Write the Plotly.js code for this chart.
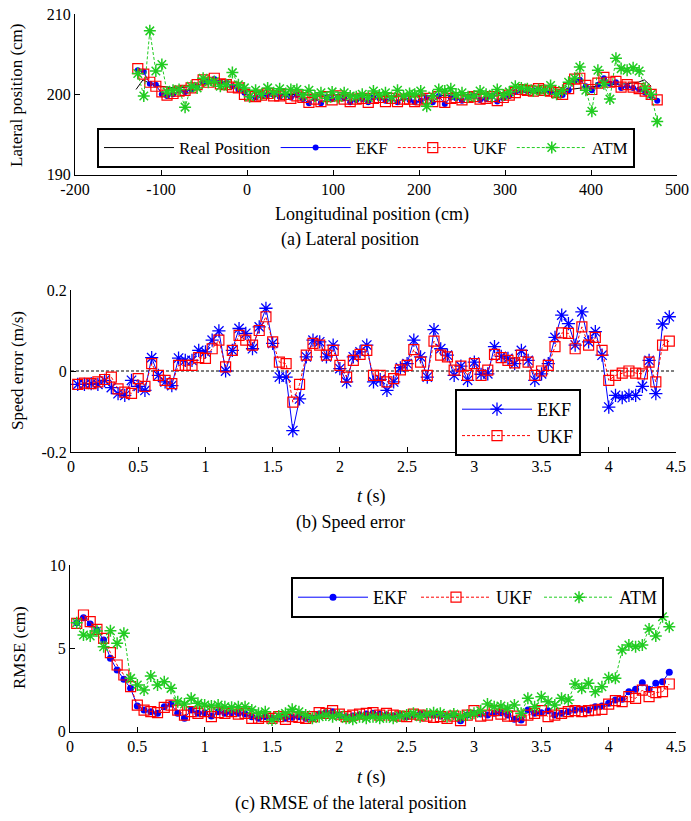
<!DOCTYPE html>
<html>
<head>
<meta charset="utf-8">
<script src="https://cdn.plot.ly/plotly-3.0.1.min.js"></script>
<style>html,body{margin:0;padding:0;background:#fff;overflow:hidden;}#chart{width:691px;height:821px;}</style>
</head>
<body>
<div id="chart"></div>
<script>
// ---------- (a) Lateral position ----------
const posX = [-127,-120,-113,-106,-99,-93,-86,-79,-72,-65,-58,-51,-45,-38,-31,-24,-17,-10,-3,3,10,17,24,31,38,45,51,58,65,72,79,86,93,99,106,113,120,127,134,141,147,154,161,168,175,182,189,195,202,209,216,223,230,237,243,250,257,264,271,278,285,291,298,305,312,319,326,333,339,346,353,360,367,374,381,387,394,401,408,415,422,429,435,442,449,456,463,470,477];
const realX = [-129,-121,-112,-100,-85,-70,-55,-40,-25,-10,0,15,40,80,120,160,200,240,280,320,360,375,390,400,420,440,455,462,470];
const realY = [200.6,201.8,201.3,201.0,200.8,200.9,201.2,201.4,201.3,201.0,200.6,200.2,200.0,199.9,199.9,199.8,199.8,199.9,200.0,200.2,200.3,200.6,200.8,201.0,201.2,201.3,201.5,201.8,201.0];
const posEKF = [203.0,202.8,201.3,201.2,200.0,199.8,200.0,200.5,200.3,200.6,
  201.0,201.6,201.6,201.9,201.5,201.4,201.0,200.6,200.2,199.7,
  199.6,199.8,199.9,199.9,199.7,199.9,199.6,199.9,199.4,198.9,
  199.5,198.9,199.6,199.4,199.7,199.5,199.0,199.3,199.4,199.0,
  199.6,199.5,199.2,199.4,199.0,199.5,199.3,199.0,199.2,199.6,
  199.0,199.8,198.8,199.6,199.5,199.2,199.7,199.8,199.3,199.4,
  199.8,199.1,199.5,199.8,200.3,200.5,200.4,200.5,200.6,200.5,
  200.3,200.1,199.9,200.5,201.7,201.8,201.0,200.5,201.2,202.0,
  201.3,201.5,200.8,201.0,200.8,200.6,200.2,199.8,199.2];
const posUKF = [203.2,202.5,201.5,201.0,200.3,199.9,200.1,200.4,200.5,200.8,
  201.2,201.8,201.5,202.0,201.3,201.2,200.9,200.8,200.0,199.8,
  199.7,199.9,200.1,199.8,199.8,200.0,199.5,199.8,199.6,199.0,
  199.4,199.1,199.7,199.3,199.8,199.4,199.1,199.4,199.5,199.0,
  199.5,199.6,199.1,199.5,199.1,199.4,199.4,199.1,199.3,199.5,
  199.1,199.7,199.0,199.5,199.6,199.3,199.6,199.7,199.4,199.5,
  199.7,199.2,199.6,199.9,200.2,200.6,200.5,200.4,200.7,200.5,
  200.4,200.2,200.0,200.7,201.9,202.0,201.1,200.6,201.4,202.1,
  201.5,201.6,200.9,201.2,200.9,200.7,200.4,200.0,199.3];
const posATM = [202.6,199.8,207.9,202.9,203.7,200.3,200.5,200.6,198.4,201.0,
  200.8,202.0,201.5,201.6,201.0,201.2,202.7,201.2,200.8,199.7,
  200.5,200.0,200.8,200.2,200.7,200.1,200.6,200.6,199.9,200.5,
  199.8,200.2,199.5,200.3,199.6,200.2,199.8,199.7,200.0,199.6,
  200.4,199.9,200.2,199.6,200.5,199.8,200.1,200.0,200.4,198.5,
  199.8,200.6,200.4,200.7,199.9,200.2,199.7,199.8,200.4,200.0,
  199.8,200.6,199.9,200.3,201.0,200.8,200.7,200.4,200.6,200.5,
  201.1,200.0,200.5,201.5,202.0,203.4,200.5,197.9,203.0,201.3,
  199.4,204.5,203.2,203.0,203.3,202.9,200.8,200.0,196.6];
const posXTicks = [-200,-100,0,100,200,300,400,500];
const posXTickText = ['-200','-100','0','100','200','300','400','500'];
const posYTicks = [190,200,210];

// ---------- shared time axis ----------
const t = [0.05,0.10,0.15,0.20,0.25,0.30,0.35,0.40,0.45,0.50,0.55,0.60,0.65,0.70,0.75,0.80,0.85,0.90,0.95,1.00,
  1.05,1.10,1.15,1.20,1.25,1.30,1.35,1.40,1.45,1.50,1.55,1.60,1.65,1.70,1.75,1.80,1.85,1.90,1.95,2.00,
  2.05,2.10,2.15,2.20,2.25,2.30,2.35,2.40,2.45,2.50,2.55,2.60,2.65,2.70,2.75,2.80,2.85,2.90,2.95,3.00,
  3.05,3.10,3.15,3.20,3.25,3.30,3.35,3.40,3.45,3.50,3.55,3.60,3.65,3.70,3.75,3.80,3.85,3.90,3.95,4.00,
  4.05,4.10,4.15,4.20,4.25,4.30,4.35,4.40,4.45];
const tTicks = [0,0.5,1,1.5,2,2.5,3,3.5,4,4.5];

// ---------- (b) Speed error ----------
const spdEKF = [-0.033,-0.033,-0.031,-0.033,-0.023,-0.041,-0.056,-0.060,-0.023,-0.038,
  -0.048,0.033,-0.011,-0.027,-0.036,0.032,0.026,0.026,0.051,0.047,
  0.076,0.099,0.000,0.051,0.105,0.093,0.055,0.109,0.155,0.068,
  -0.015,-0.015,-0.147,-0.069,0.035,0.076,0.072,0.035,0.064,0.006,
  -0.027,0.035,0.047,0.064,-0.027,-0.021,-0.048,-0.027,0.008,0.018,
  0.076,0.035,-0.015,0.102,0.055,0.039,-0.011,0.012,-0.023,0.022,
  -0.008,-0.007,0.060,0.036,0.031,0.018,0.051,0.026,-0.023,-0.007,
  0.018,0.083,0.138,0.117,0.064,0.146,0.072,0.097,0.039,-0.089,
  -0.060,-0.066,-0.060,-0.060,-0.038,0.026,-0.056,0.116,0.134];
const spdUKF = [-0.033,-0.030,-0.031,-0.027,-0.021,-0.015,-0.044,-0.052,-0.055,-0.019,
  -0.038,0.018,-0.011,-0.023,-0.031,0.014,0.014,0.014,0.033,0.031,
  0.055,0.076,0.010,0.051,0.088,0.076,0.064,0.100,0.134,0.072,
  0.022,0.018,-0.077,-0.033,0.039,0.068,0.064,0.039,0.051,0.014,
  -0.015,0.026,0.041,0.051,-0.011,-0.011,-0.027,-0.019,0.003,0.014,
  0.053,0.022,-0.011,0.074,0.039,0.035,0.002,0.012,-0.011,0.018,
  -0.011,0.002,0.041,0.033,0.026,0.020,0.039,0.022,-0.011,0.000,
  0.014,0.060,0.094,0.093,0.055,0.109,0.064,0.083,0.051,-0.023,
  -0.011,-0.005,0.000,-0.005,-0.007,0.022,-0.027,0.064,0.074];
const spdYTicks = [-0.2,0,0.2];
const spdYTickText = ['-0.2','0','0.2'];

// ---------- (c) RMSE ----------
const rmseEKF = [6.54,6.84,6.46,6.10,5.50,4.40,3.70,3.14,2.60,1.54,
  1.30,1.20,1.10,1.50,1.66,1.10,0.80,1.30,1.10,1.14,
  0.94,1.20,1.10,1.14,1.10,1.06,0.90,0.80,0.90,0.80,
  0.90,0.80,0.86,0.90,0.80,0.80,1.06,1.14,1.20,1.00,
  0.90,0.94,1.00,1.06,1.10,1.06,1.00,0.94,1.00,0.90,
  1.00,1.06,1.00,1.00,0.94,0.94,1.00,0.66,1.00,1.10,
  1.06,1.00,1.10,1.14,1.00,0.74,0.70,1.30,1.10,1.14,
  1.26,1.00,1.10,1.20,1.30,1.34,1.30,1.50,1.54,1.70,
  1.90,1.94,2.40,2.54,2.94,2.54,2.90,3.00,3.56];
const rmseUKF = [6.50,7.00,6.60,6.14,5.60,4.74,4.00,3.40,2.70,1.60,
  1.30,1.20,1.14,1.46,1.60,1.30,1.00,1.20,1.10,1.20,
  0.90,1.14,1.10,1.20,1.06,1.10,0.80,0.80,0.90,0.80,
  0.90,0.74,0.90,0.86,0.80,0.90,1.14,1.10,1.26,1.06,
  0.90,1.00,1.06,1.10,1.14,1.00,1.10,1.00,0.94,0.90,
  1.06,1.00,0.94,0.86,0.90,0.80,0.94,0.66,1.00,1.26,
  0.94,1.00,1.26,1.06,0.94,0.94,0.70,1.00,1.10,1.26,
  0.90,1.00,1.10,1.20,1.26,1.20,1.26,1.30,1.34,1.66,
  1.86,1.80,2.10,2.00,2.50,2.10,2.34,2.40,2.86];
const rmseATM = [6.54,5.80,5.74,6.04,5.10,6.06,5.30,5.90,3.20,2.80,
  2.50,3.34,2.80,3.00,2.60,1.80,1.66,2.00,1.70,1.60,
  1.54,1.60,1.50,1.46,1.50,1.50,1.30,1.10,1.20,0.70,
  0.94,1.10,1.34,1.20,1.00,0.80,0.90,1.00,0.90,1.00,
  0.80,0.74,0.90,0.80,0.90,0.80,0.90,0.80,0.94,1.00,
  1.10,0.90,1.06,1.14,1.10,0.90,1.06,0.90,1.00,1.10,
  1.26,1.66,1.50,1.54,1.40,1.60,1.10,2.00,1.50,2.10,
  1.80,1.60,2.00,1.90,2.86,2.60,2.90,2.40,2.70,3.24,
  3.20,4.90,5.20,5.10,5.20,6.16,5.74,6.90,6.30];
const rmseYTicks = [0,5,10];

// ---------- styling ----------
const W = 691, H = 821;
const FONT = 'Liberation Serif';
const BLUE = '#0000ff', RED = '#ff0000', GREEN = '#22cc22';
const DASH = '3px,2px';
const px = v => v / W;
const py = v => 1 - v / H;

function axisBase(extra) {
  return Object.assign({
    showline: true, linecolor: 'black', linewidth: 1,
    ticks: 'inside', ticklen: 5, tickwidth: 1, tickcolor: 'black',
    showgrid: false, zeroline: false, mirror: false, automargin: false,
    tickfont: {family: FONT, size: 16, color: 'black'},
    fixedrange: true
  }, extra);
}

const traces = [
  {x: realX, y: realY, xaxis: 'x', yaxis: 'y', mode: 'lines', name: 'Real Position',
   line: {color: 'black', width: 1}, legend: 'legend'},
  {x: posX, y: posEKF, xaxis: 'x', yaxis: 'y', mode: 'lines+markers', name: 'EKF',
   line: {color: BLUE, width: 1}, marker: {symbol: 'circle', size: 6, color: BLUE}, legend: 'legend'},
  {x: posX, y: posUKF, xaxis: 'x', yaxis: 'y', mode: 'lines+markers', name: 'UKF',
   line: {color: RED, width: 1, dash: DASH}, marker: {symbol: 'square-open', size: 10, color: RED, line: {width: 1.2}}, legend: 'legend'},
  {x: posX, y: posATM, xaxis: 'x', yaxis: 'y', mode: 'lines+markers', name: 'ATM',
   line: {color: GREEN, width: 1, dash: DASH}, marker: {symbol: 'asterisk-open', size: 10, color: GREEN, line: {width: 1.5, color: GREEN}}, legend: 'legend'},

  {x: t, y: spdEKF, xaxis: 'x2', yaxis: 'y2', mode: 'lines+markers', name: 'EKF',
   line: {color: BLUE, width: 1}, marker: {symbol: 'asterisk-open', size: 11, color: BLUE, line: {width: 1.3, color: BLUE}}, legend: 'legend2'},
  {x: t, y: spdUKF, xaxis: 'x2', yaxis: 'y2', mode: 'lines+markers', name: 'UKF',
   line: {color: RED, width: 1, dash: DASH}, marker: {symbol: 'square-open', size: 10, color: RED, line: {width: 1.2}}, legend: 'legend2'},

  {x: t, y: rmseEKF, xaxis: 'x3', yaxis: 'y3', mode: 'lines+markers', name: 'EKF',
   line: {color: BLUE, width: 1}, marker: {symbol: 'circle', size: 7, color: BLUE}, legend: 'legend3'},
  {x: t, y: rmseUKF, xaxis: 'x3', yaxis: 'y3', mode: 'lines+markers', name: 'UKF',
   line: {color: RED, width: 1, dash: DASH}, marker: {symbol: 'square-open', size: 10, color: RED, line: {width: 1.2}}, legend: 'legend3'},
  {x: t, y: rmseATM, xaxis: 'x3', yaxis: 'y3', mode: 'lines+markers', name: 'ATM',
   line: {color: GREEN, width: 1, dash: DASH}, marker: {symbol: 'asterisk-open', size: 10, color: GREEN, line: {width: 1.5, color: GREEN}}, legend: 'legend3'}
];

function ann(text, xPix, yPix, size, angle) {
  return {text: text, xref: 'paper', yref: 'paper', x: px(xPix), y: py(yPix),
    xanchor: 'center', yanchor: 'middle', showarrow: false, textangle: angle || 0,
    font: {family: FONT, size: size, color: 'black'}};
}

const legendBase = {
  bgcolor: 'white', bordercolor: 'black', borderwidth: 2,
  xref: 'container', yref: 'container', itemwidth: 70,
  xanchor: 'left', yanchor: 'top', font: {family: FONT, size: 17, color: 'black'}
};

const layout = {
  width: W, height: H,
  margin: {l: 0, r: 0, t: 0, b: 0, pad: 0, autoexpand: false},
  paper_bgcolor: 'white', plot_bgcolor: 'white',
  showlegend: true,
  xaxis: axisBase({domain: [px(75), px(677)], range: [-200, 500], anchor: 'y',
    tickmode: 'array', tickvals: posXTicks, ticktext: posXTickText}),
  yaxis: axisBase({domain: [py(174.6), py(14)], range: [190, 210], anchor: 'x',
    tickmode: 'array', tickvals: posYTicks}),
  xaxis2: axisBase({domain: [px(71), px(676)], range: [0, 4.5], anchor: 'y2',
    tickmode: 'array', tickvals: tTicks}),
  yaxis2: axisBase({domain: [py(452), py(290)], range: [-0.2, 0.2], anchor: 'x2',
    tickmode: 'array', tickvals: spdYTicks, ticktext: spdYTickText}),
  xaxis3: axisBase({domain: [px(70), px(676)], range: [0, 4.5], anchor: 'y3',
    tickmode: 'array', tickvals: tTicks}),
  yaxis3: axisBase({domain: [py(731.7), py(565)], range: [0, 10], anchor: 'x3',
    tickmode: 'array', tickvals: rmseYTicks}),
  shapes: [
    {type: 'line', xref: 'x2', yref: 'y2', x0: 0, x1: 4.5, y0: 0, y1: 0,
     line: {color: 'black', width: 1, dash: DASH}, layer: 'below'}
  ],
  legend: Object.assign({}, legendBase, {x: px(97), y: py(128), orientation: 'h'}),
  legend2: Object.assign({}, legendBase, {x: px(455), y: py(389), orientation: 'v',
    font: {family: FONT, size: 18, color: 'black'}}),
  legend3: Object.assign({}, legendBase, {x: px(291), y: py(577), orientation: 'h',
    entrywidth: 38, entrywidthmode: 'pixels', font: {family: FONT, size: 18, color: 'black'}}),
  annotations: [
    ann('Lateral position (cm)', 17, 95, 17, -90),
    ann('Longitudinal position (cm)', 372, 214, 18),
    ann('(a) Lateral position', 350, 240, 18),
    ann('Speed error (m/s)', 17, 371, 17, -90),
    ann('<i>t</i> (s)', 372, 496, 18),
    ann('(b) Speed error', 350, 522, 18),
    ann('RMSE (cm)', 19, 648, 17, -90),
    ann('<i>t</i> (s)', 372, 777, 18),
    ann('(c) RMSE of the lateral position', 350, 803, 18)
  ]
};

Plotly.newPlot('chart', traces, layout, {staticPlot: true, displayModeBar: false});
</script>
</body>
</html>
